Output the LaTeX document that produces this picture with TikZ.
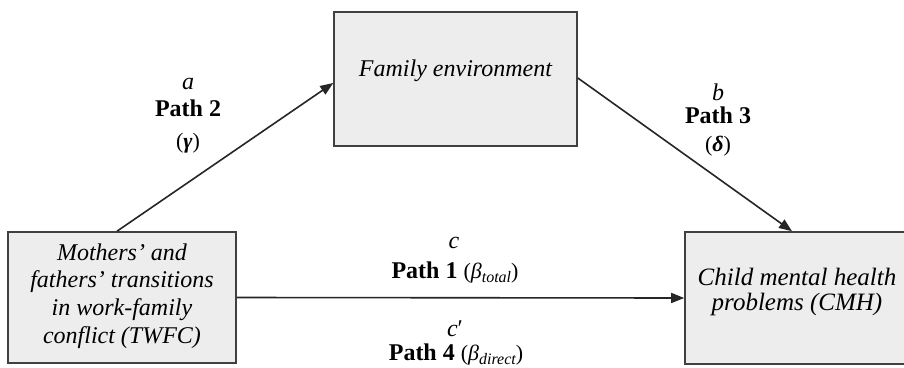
\documentclass[tikz,border=0pt]{standalone}
\usepackage{fontspec}
\setmainfont{Liberation Serif}
\usetikzlibrary{arrows.meta}
\tikzset{
  box/.style={draw=black!75, line width=1.6pt, fill=black!7, inner sep=0pt},
  boxtext/.style={align=center, inner sep=0pt, font=\fontsize{24}{27.7}\selectfont\itshape},
  arr/.style={draw=black!85, line width=1.6pt, -{Triangle[length=13pt,width=10pt]}},
  lbl/.style={font=\fontsize{24}{28}\selectfont, inner sep=0pt, anchor=base},
  sml/.style={font=\fontsize{22}{24}\selectfont},
}
\newcommand{\subtxt}[1]{\raisebox{-4pt}{\fontsize{16}{18}\selectfont\itshape #1}}
\begin{document}
\begin{tikzpicture}[x=1pt,y=-1pt]
\useasboundingbox (0,0) rectangle (904,367);
\clip (0,0) rectangle (904,367);
\fill[white] (0,0) rectangle (904,367);
\node[box, minimum width=243pt, minimum height=134pt] (fe) at (455.5,79) {};
\node[box, minimum width=228pt, minimum height=131pt] (lb) at (122,297.5) {};
\node[box, minimum width=224pt, minimum height=132pt] (rb) at (797,298) {};
\node[boxtext] (fet) at (455.5,70.5) {Family environment};
\node[boxtext] (lbt) at (122,296) {Mothers’ and\\fathers’ transitions\\in work-family\\conflict (TWFC)};
\node[boxtext, font=\fontsize{25}{24.5}\selectfont\itshape] (rbt) at (797,292) {Child mental health\\problems (CMH)};
\draw[arr] ([xshift=-5pt]lb.north) -- ([yshift=-4pt]fe.west);
\draw[arr] ([yshift=1pt]fe.east) -- ([xshift=-5pt]rb.north);
\draw[arr] (lb.east) -- (rb.west);
\node[lbl] (la) at (188,89) {\textit{a}};
\node[lbl] (p2) at (188,116) {\textbf{Path 2}};
\node[lbl, sml] (g) at (188,148) {(\textbf{\textit{γ}})};
\node[lbl] (lbb) at (718,100) {\textit{b}};
\node[lbl] (p3) at (718,123) {\textbf{Path 3}};
\node[lbl, sml] (d) at (718,151) {(\textbf{\textit{δ}})};
\node[lbl] (lc) at (454,248) {\textit{c}};
\node[lbl] (p1) at (455,278) {\textbf{Path 1} {\fontsize{22}{24}\selectfont(\textit{β}\subtxt{total})}};
\node[lbl] (lcc) at (455,336) {\textit{c}′};
\node[lbl] (p4) at (456,360) {\textbf{Path 4} {\fontsize{22}{24}\selectfont(\textit{β}\subtxt{direct})}};
\end{tikzpicture}
\end{document}
